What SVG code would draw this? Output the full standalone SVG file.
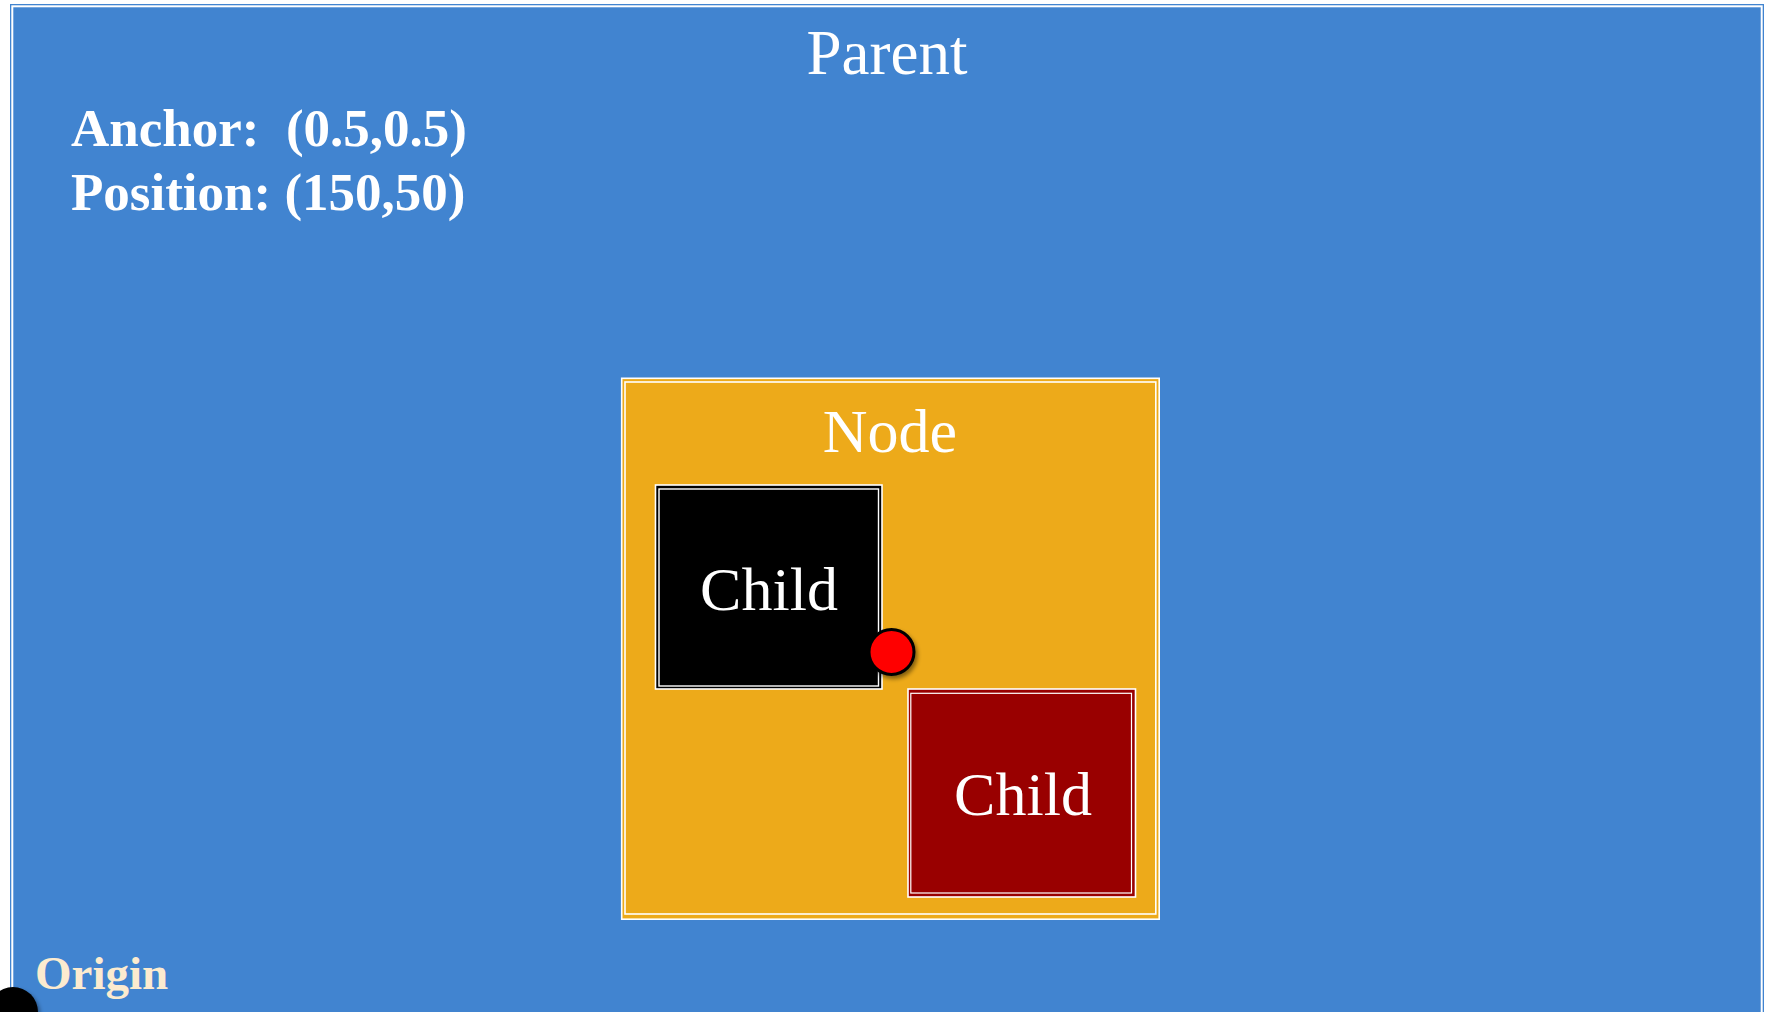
<svg xmlns="http://www.w3.org/2000/svg" width="1771" height="1012" viewBox="0 0 1771 1012">
  <style>
    .serif { font-family: "Liberation Serif", "Times New Roman", serif; }
    .title { font-size: 62px; fill: #ffffff; text-anchor: middle; }
    .info { font-size: 53px; font-weight: bold; fill: #ffffff; }
    .line { fill: none; stroke: #ffffff; }
  </style>
  <defs>
    <filter id="shadow" x="-50%" y="-50%" width="200%" height="200%">
      <feDropShadow dx="2" dy="3" stdDeviation="2" flood-color="#000000" flood-opacity="0.45"/>
    </filter>
  </defs>

  <rect x="0" y="0" width="1771" height="1012" fill="#ffffff"/>

  <!-- parent frame -->
  <g id="parent">
    <rect x="10" y="4" width="1754" height="1030" fill="#4184d0"/>
    <rect x="12.3" y="6.3" width="1749.4" height="1030" class="line" stroke-width="2"/>
    <text class="serif title" x="887" y="74" style="font-size:63px">Parent</text>
    <text class="serif info" x="71" y="146" xml:space="preserve">Anchor:  (0.5,0.5)</text>
    <text class="serif info" x="71" y="210">Position: (150,50)</text>
  </g>

  <!-- node container -->
  <g id="node">
    <rect x="621.7" y="378.3" width="537.5" height="540.9" fill="#edaa1a" stroke="#ffffff" stroke-width="1.6"/>
    <rect x="625" y="382" width="530.8" height="532" class="line" stroke-width="1.6"/>
    <text class="serif title" x="890" y="452">Node</text>
  </g>

  <!-- first child -->
  <g id="child-black">
    <rect x="655.5" y="485" width="226.5" height="204" fill="#000000" stroke="#ffffff" stroke-width="1.6"/>
    <rect x="659" y="489" width="219.5" height="197" class="line" stroke-width="1.4"/>
    <text class="serif title" x="769" y="610">Child</text>
  </g>

  <!-- second child -->
  <g id="child-red">
    <rect x="908" y="689" width="227.5" height="208" fill="#990000" stroke="#ffffff" stroke-width="1.6"/>
    <rect x="910.8" y="693.3" width="220.7" height="199.7" class="line" stroke-width="1.2"/>
    <text class="serif title" x="1023" y="815">Child</text>
  </g>

  <!-- anchor point -->
  <g id="anchor-dot">
    <circle cx="891.5" cy="652" r="22.5" fill="#ff0000" stroke="#000000" stroke-width="3" filter="url(#shadow)"/>
  </g>

  <!-- origin marker -->
  <g id="origin">
    <circle cx="13" cy="1012" r="25" fill="#000000" filter="url(#shadow)"/>
    <text class="serif" x="35" y="989" style="font-size:47px;font-weight:bold;fill:#fcebcf">Origin</text>
  </g>

  <g id="connectors"></g>
</svg>
